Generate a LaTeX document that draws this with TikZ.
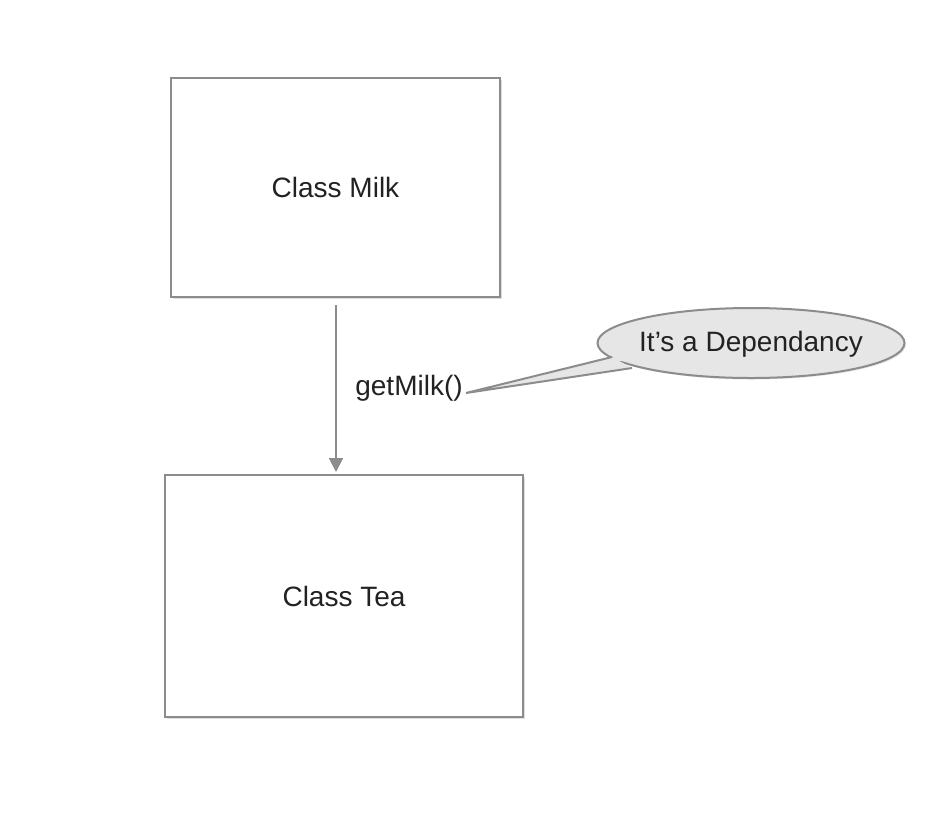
\documentclass[tikz,border=0pt]{standalone}
\usepackage{fontspec}
\setmainfont{Liberation Sans}
\usetikzlibrary{shapes.geometric,shadows,arrows.meta,calc}
\definecolor{edge}{HTML}{8C8C8C}
\definecolor{txt}{HTML}{222222}
\definecolor{bubble}{HTML}{E6E6E6}
\tikzset{
  classbox/.style={draw=edge, line width=2.2pt, fill=white, inner sep=0pt,
    font=\fontsize{28}{33}\selectfont, text=txt,
    drop shadow={shadow xshift=1.5pt, shadow yshift=-1.5pt, opacity=0.25}},
  lbl/.style={font=\fontsize{28}{33}\selectfont, text=txt, inner sep=1pt},
  conn/.style={draw=edge, line width=2pt, -{Triangle[length=14pt,width=14pt]}},
  callout/.style={draw=edge, line width=2pt, fill=bubble}
}
\begin{document}
\begin{tikzpicture}[x=1pt,y=-1pt]
\useasboundingbox (0,0) rectangle (929,823);
\fill[white] (0,0) rectangle (929,823);
\node[classbox, minimum width=329pt, minimum height=219pt] (milk) at (335.5,187.5) {Class Milk};
\node[classbox, minimum width=358pt, minimum height=242pt] (tea) at (344,596) {Class Tea};
\coordinate (s) at (336,305);
\coordinate (e) at (336,472);
\draw[conn] (s) -- (e);
\node[lbl] (get) at (409,388) {getMilk()};
% callout
\coordinate (tip) at (466,393);
\node[ellipse, callout, minimum width=307pt, minimum height=70pt,
      drop shadow={shadow xshift=1.5pt, shadow yshift=-1.5pt, opacity=0.2}] (bub) at (751,343) {};
\coordinate (b1) at (612,357);
\coordinate (b2) at (632,368);
\fill[bubble] (b1) -- (tip) -- (b2) -- cycle;
\draw[edge, line width=2pt, line join=miter] (b1) -- (tip) -- (b2);
\fill[bubble] (616,353) -- (612,360) -- (639,363) -- (650,355) -- cycle;
\node[lbl] (dep) at ($(bub.center)+(0,1)$) {It’s a Dependancy};
\end{tikzpicture}
\end{document}
